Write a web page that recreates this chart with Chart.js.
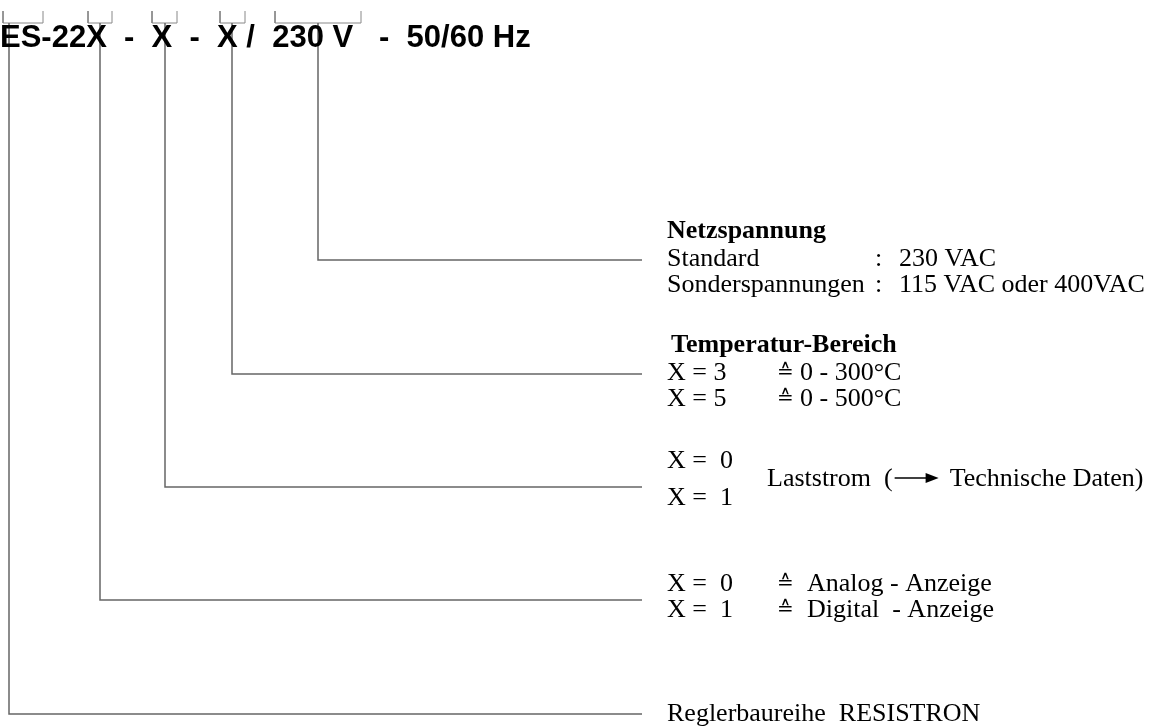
<!DOCTYPE html>
<html><head><meta charset="utf-8">
<script src="https://cdn.jsdelivr.net/npm/chart.js@4/dist/chart.umd.min.js"></script>
<style>html,body{margin:0;padding:0;background:#fff}#wrap{width:1160px;height:726px;position:relative}</style>
</head><body><div id="wrap"><canvas id="c"></canvas></div>
<script>
// ---- data (text content) ----
const codeTitle = "ES-22X  -  X  -  X /  230 V   -  50/60 Hz";
const fieldHeaders = ["Netzspannung", "Temperatur-Bereich"];
const netzNames = ["Standard", "Sonderspannungen"];
const netzValues = ["230 VAC", "115 VAC oder 400VAC"];
const tempCodes = ["X = 3", "X = 5"];
const tempRanges = ["0 - 300°C", "0 - 500°C"];
const stromCodes = ["X =  0", "X =  1"];
const stromText = ["Laststrom  (", "Technische Daten)"];
const anzeigeCodes = ["X =  0", "X =  1"];
const anzeigeTexts = ["Analog - Anzeige", "Digital  - Anzeige"];
const seriesText = "Reglerbaureihe  RESISTRON";
const correspondSign = "\u2259";

// ---- layout ----
const connectorX = [318, 232, 165, 100, 9];     // where each code field drops down
const rowY = [260, 374, 487, 600, 714];         // leader line heights
const leaderEnd = 642;
const bracketL = [3, 88, 152, 220, 275];
const bracketR = [43, 112, 177, 245, 361];
const bracketTop = 11, bracketBot = 23;

const datasets = [];
connectorX.forEach((cx, i) => {
  datasets.push({
    data: [{x: cx, y: bracketBot}, {x: cx, y: rowY[i]}, {x: leaderEnd, y: rowY[i]}],
    borderColor: '#666', borderWidth: 1.5
  });
});
bracketL.forEach((l, i) => {
  datasets.push({
    data: [{x: l, y: bracketTop}, {x: l, y: bracketBot}, {x: bracketR[i], y: bracketBot}, {x: bracketR[i], y: bracketTop}],
    borderColor: '#888', borderWidth: 1
  });
});
datasets.forEach(d => { d.showLine = true; d.pointRadius = 0; d.fill = false; d.tension = 0; });

const SERIF = '"Liberation Serif", "Times New Roman", serif';
const textPlugin = {
  id: 'texts',
  afterDatasetsDraw(chart) {
    const ctx = chart.ctx, xs = chart.scales.x, ys = chart.scales.y;
    const X = v => xs.getPixelForValue(v), Y = v => ys.getPixelForValue(v);
    ctx.save();
    ctx.fillStyle = '#000';
    ctx.textBaseline = 'alphabetic';
    ctx.textAlign = 'left';
    // title
    ctx.font = 'bold 31px "Liberation Sans", Arial, sans-serif';
    ctx.fillText(codeTitle, X(0), Y(47));
    const tx = 667;
    const reg = '26px ' + SERIF, bold = 'bold 26px ' + SERIF;
    const put = (t, x, y, f) => { ctx.font = f || reg; ctx.fillText(t, X(x), Y(y)); };
    const sign = (x, y) => { ctx.font = '20px "DejaVu Sans"'; ctx.fillText(correspondSign, X(x), Y(y)); };
    // Netzspannung
    put(fieldHeaders[0], tx, rowY[0] - 22, bold);
    netzNames.forEach((n, i) => {
      const y = rowY[0] + 6 + i * 26;
      put(n, tx, y); put(':', 875, y); put(netzValues[i], 899, y);
    });
    // Temperatur
    put(fieldHeaders[1], tx + 4, rowY[1] - 22, bold);
    tempCodes.forEach((c, i) => {
      const y = rowY[1] + 6 + i * 26;
      put(c, tx, y); sign(777, y - 2); put(tempRanges[i], 800, y);
    });
    // Laststrom
    stromCodes.forEach((c, i) => put(c, tx, rowY[2] - 19 + i * 37));
    const ly = rowY[2] - 1;
    put(stromText[0], 767, ly);
    ctx.font = reg;
    const ax = X(767) + ctx.measureText(stromText[0]).width + 2;
    const ay = Y(ly - 8);
    ctx.strokeStyle = '#000'; ctx.lineWidth = 1.5;
    ctx.beginPath(); ctx.moveTo(ax, ay); ctx.lineTo(ax + 34, ay); ctx.stroke();
    ctx.beginPath(); ctx.moveTo(ax + 44, ay); ctx.lineTo(ax + 31, ay - 5); ctx.lineTo(ax + 31, ay + 5); ctx.closePath(); ctx.fill();
    ctx.fillText(stromText[1], ax + 55, Y(ly));
    // Anzeige
    anzeigeCodes.forEach((c, i) => {
      const y = rowY[3] - 9 + i * 26;
      put(c, tx, y); sign(777, y - 2); put(anzeigeTexts[i], 807, y);
    });
    // Reglerbaureihe
    put(seriesText, tx, rowY[4] + 7);
    ctx.restore();
  }
};

new Chart(document.getElementById('c'), {
  type: 'scatter',
  data: { datasets },
  options: {
    responsive: true, maintainAspectRatio: false, animation: false,
    layout: { padding: 0 },
    plugins: { legend: { display: false }, tooltip: { enabled: false } },
    scales: {
      x: { type: 'linear', min: 0, max: 1160, display: false },
      y: { type: 'linear', min: 0, max: 726, reverse: true, display: false }
    }
  },
  plugins: [textPlugin]
});
</script></body></html>
